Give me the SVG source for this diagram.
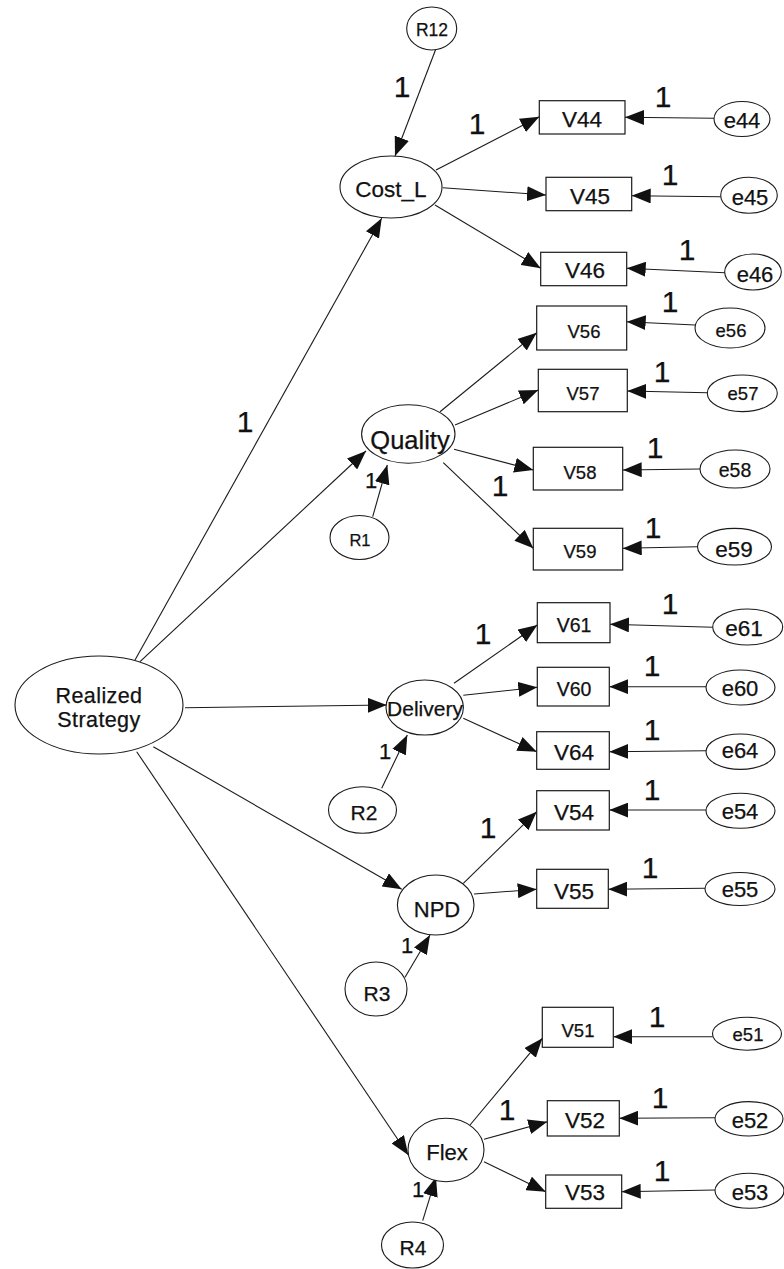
<svg xmlns="http://www.w3.org/2000/svg" width="784" height="1269" viewBox="0 0 784 1269">
  <style>
    .bg { fill: #ffffff; }
    .lat { fill: #ffffff; stroke: #1a1a1a; stroke-width: 1.1; }
    .obs { fill: #ffffff; stroke: #1a1a1a; stroke-width: 1.2; }
    .err { fill: #ffffff; stroke: #1a1a1a; stroke-width: 1.1; }
    .path { stroke: #1a1a1a; stroke-width: 1.1; fill: none; marker-end: url(#head); }
    text { font-family: "Liberation Sans", Arial, sans-serif; fill: #111111; stroke: #111111; stroke-width: 0.25; text-anchor: middle; }
    .v-lg { font-size: 22.5px; }
    .e-lg { font-size: 22px; }
    .md { font-size: 19.5px; }
    .sm { font-size: 18.5px; }
    .r { font-size: 21px; }
    .r12 { font-size: 17.5px; }
    .r1 { font-size: 16.5px; }
    .qual { font-size: 25.5px; }
    .deliv { font-size: 21px; }
    .fac { font-size: 22.5px; }
    .fac2 { font-size: 21.5px; letter-spacing: 0.4px; }
    .w1 { font-size: 30px; }
    .w1s { font-size: 22px; }
  </style>
  <defs>
    <marker id="head" markerUnits="userSpaceOnUse" markerWidth="19" markerHeight="15" refX="19" refY="7.5" orient="auto">
      <path d="M0,0 L19,7.5 L0,15 z" fill="#111111"/>
    </marker>
  </defs>
  <rect class="bg" x="0" y="0" width="784" height="1269"/>

  <!-- regression paths and their fixed weights -->
  <g id="connectors">
    <line class="path" x1="436.7" y1="46.7" x2="395" y2="156"/>
    <line class="path" x1="436" y1="170" x2="539.3" y2="116.7"/>
    <line class="path" x1="442.7" y1="187.7" x2="546" y2="195"/>
    <line class="path" x1="435" y1="205" x2="540.7" y2="268.3"/>
    <line class="path" x1="714" y1="118.3" x2="625" y2="117.3"/>
    <line class="path" x1="720.7" y1="196.7" x2="631.7" y2="195.7"/>
    <line class="path" x1="725" y1="272.7" x2="626.7" y2="268.3"/>
    <line class="path" x1="135" y1="660" x2="381.7" y2="218.3"/>
    <line class="path" x1="140" y1="661.7" x2="366" y2="451"/>
    <line class="path" x1="440" y1="411.7" x2="536.7" y2="332.7"/>
    <line class="path" x1="455" y1="425" x2="538.3" y2="390"/>
    <line class="path" x1="454" y1="449.3" x2="533.3" y2="470"/>
    <line class="path" x1="443.3" y1="462.7" x2="533.3" y2="548.3"/>
    <line class="path" x1="695" y1="325" x2="626.7" y2="321.7"/>
    <line class="path" x1="707.3" y1="392.7" x2="627.3" y2="391"/>
    <line class="path" x1="700" y1="469" x2="622.7" y2="470"/>
    <line class="path" x1="697.3" y1="546.7" x2="622.7" y2="548.3"/>
    <line class="path" x1="372.7" y1="516.7" x2="387.3" y2="465"/>
    <line class="path" x1="185" y1="707.7" x2="386.7" y2="705"/>
    <line class="path" x1="454" y1="683.3" x2="537.3" y2="625"/>
    <line class="path" x1="463.3" y1="695.3" x2="537.3" y2="687.3"/>
    <line class="path" x1="463.3" y1="718.3" x2="536.7" y2="751.7"/>
    <line class="path" x1="712.7" y1="627.3" x2="610" y2="624.3"/>
    <line class="path" x1="706" y1="686.7" x2="609.3" y2="686.7"/>
    <line class="path" x1="706" y1="750.7" x2="609.3" y2="751.7"/>
    <line class="path" x1="381.7" y1="788.3" x2="407.3" y2="735"/>
    <line class="path" x1="153.3" y1="746.7" x2="401.7" y2="889.3"/>
    <line class="path" x1="463.3" y1="883.3" x2="536.7" y2="811.7"/>
    <line class="path" x1="474" y1="894" x2="536.7" y2="889.3"/>
    <line class="path" x1="706" y1="810" x2="609.3" y2="810"/>
    <line class="path" x1="705" y1="888.3" x2="608.3" y2="889.3"/>
    <line class="path" x1="405" y1="977.3" x2="430" y2="935"/>
    <line class="path" x1="136.7" y1="751.7" x2="408.3" y2="1155"/>
    <line class="path" x1="470" y1="1125" x2="542.3" y2="1038.3"/>
    <line class="path" x1="484" y1="1139.3" x2="547.3" y2="1121.7"/>
    <line class="path" x1="484" y1="1161.7" x2="545.7" y2="1191.7"/>
    <line class="path" x1="712.7" y1="1036.7" x2="613.3" y2="1036.7"/>
    <line class="path" x1="715" y1="1117.7" x2="619.3" y2="1118.3"/>
    <line class="path" x1="715" y1="1190" x2="621.7" y2="1191.7"/>
    <line class="path" x1="422.7" y1="1220.7" x2="436" y2="1177.3"/>

    <text class="w1" x="402" y="97">1</text>
    <text class="w1" x="477" y="134">1</text>
    <text class="w1" x="663" y="107">1</text>
    <text class="w1" x="670" y="185">1</text>
    <text class="w1" x="687" y="260">1</text>
    <text class="w1" x="245" y="432">1</text>
    <text class="w1" x="670" y="312">1</text>
    <text class="w1" x="662" y="382">1</text>
    <text class="w1" x="655" y="458">1</text>
    <text class="w1" x="500" y="496">1</text>
    <text class="w1" x="653" y="538">1</text>
    <text class="w1s" x="371" y="488">1</text>
    <text class="w1" x="483" y="644">1</text>
    <text class="w1" x="670" y="614">1</text>
    <text class="w1" x="652" y="676">1</text>
    <text class="w1" x="652" y="740">1</text>
    <text class="w1s" x="385" y="759">1</text>
    <text class="w1" x="652" y="800">1</text>
    <text class="w1" x="488" y="838">1</text>
    <text class="w1" x="650" y="878">1</text>
    <text class="w1s" x="407" y="953">1</text>
    <text class="w1" x="657" y="1027">1</text>
    <text class="w1" x="507" y="1120">1</text>
    <text class="w1" x="660" y="1108">1</text>
    <text class="w1" x="662" y="1181">1</text>
    <text class="w1s" x="418" y="1197">1</text>
  </g>

  <!-- latent factors -->
  <g id="realized-strategy">
    <ellipse class="lat" cx="99" cy="705" rx="84" ry="49"/>
    <text class="fac2" x="99" y="703">Realized</text>
    <text class="fac2" x="99" y="726.5">Strategy</text>
  </g>
  <g id="cost-l">
    <ellipse class="lat" cx="391" cy="187" rx="51" ry="31"/>
    <text class="fac" x="391" y="197">Cost_L</text>
  </g>
  <g id="quality">
    <ellipse class="lat" cx="408.3" cy="434" rx="46.7" ry="29.2"/>
    <text class="qual" x="410" y="449">Quality</text>
  </g>
  <g id="delivery">
    <ellipse class="lat" cx="424.7" cy="707.5" rx="38.7" ry="27.5"/>
    <text class="deliv" x="425" y="716">Delivery</text>
  </g>
  <g id="npd">
    <ellipse class="lat" cx="435.7" cy="905" rx="38.3" ry="30"/>
    <text class="e-lg" x="437" y="917">NPD</text>
  </g>
  <g id="flex">
    <ellipse class="lat" cx="446" cy="1150" rx="38" ry="31.7"/>
    <text class="e-lg" x="447" y="1160">Flex</text>
  </g>

  <!-- disturbances -->
  <g id="r12">
    <ellipse class="err" cx="431.7" cy="28.5" rx="25" ry="21.5"/>
    <text class="r12" x="432" y="36">R12</text>
  </g>
  <g id="r1">
    <ellipse class="err" cx="359.5" cy="537.5" rx="29.5" ry="22"/>
    <text class="r1" x="360" y="546">R1</text>
  </g>
  <g id="r2">
    <ellipse class="err" cx="362.5" cy="810" rx="34" ry="23.3"/>
    <text class="r" x="364" y="820">R2</text>
  </g>
  <g id="r3">
    <ellipse class="err" cx="376" cy="989" rx="31" ry="27"/>
    <text class="r" x="377" y="1001">R3</text>
  </g>
  <g id="r4">
    <ellipse class="err" cx="412.5" cy="1245" rx="31" ry="23"/>
    <text class="r" x="413" y="1255">R4</text>
  </g>

  <!-- observed indicators -->
  <g id="v44"><rect class="obs" x="539.3" y="100.7" width="85.7" height="33.3"/><text class="v-lg" x="582" y="127">V44</text></g>
  <g id="v45"><rect class="obs" x="546" y="177.3" width="85.7" height="33.4"/><text class="v-lg" x="590" y="204">V45</text></g>
  <g id="v46"><rect class="obs" x="540.7" y="252.3" width="86" height="33.4"/><text class="v-lg" x="585" y="278">V46</text></g>
  <g id="v56"><rect class="obs" x="536.7" y="306" width="90" height="44"/><text class="sm" x="584" y="338">V56</text></g>
  <g id="v57"><rect class="obs" x="538.3" y="369.3" width="89" height="42.4"/><text class="sm" x="583" y="400">V57</text></g>
  <g id="v58"><rect class="obs" x="533.3" y="447.3" width="89.4" height="42.7"/><text class="sm" x="580" y="479">V58</text></g>
  <g id="v59"><rect class="obs" x="533.3" y="528.3" width="89.4" height="41.7"/><text class="sm" x="580" y="558">V59</text></g>
  <g id="v61"><rect class="obs" x="537.3" y="602.7" width="72.7" height="40"/><text class="md" x="574" y="632">V61</text></g>
  <g id="v60"><rect class="obs" x="537.3" y="667.3" width="72" height="38.7"/><text class="md" x="574" y="696">V60</text></g>
  <g id="v64"><rect class="obs" x="536.7" y="731.7" width="72.6" height="37.6"/><text class="v-lg" x="574" y="760">V64</text></g>
  <g id="v54"><rect class="obs" x="536.7" y="790.7" width="72.6" height="39.3"/><text class="v-lg" x="574" y="820">V54</text></g>
  <g id="v55"><rect class="obs" x="536.7" y="869.3" width="71.6" height="39"/><text class="v-lg" x="574" y="899">V55</text></g>
  <g id="v51"><rect class="obs" x="542.3" y="1007.3" width="71" height="40"/><text class="sm" x="578" y="1037">V51</text></g>
  <g id="v52"><rect class="obs" x="547.3" y="1100.7" width="72" height="35.3"/><text class="v-lg" x="585" y="1128">V52</text></g>
  <g id="v53"><rect class="obs" x="545.7" y="1175" width="76" height="33.3"/><text class="v-lg" x="585" y="1200">V53</text></g>

  <!-- measurement errors -->
  <g id="e44"><ellipse class="err" cx="742" cy="119" rx="28" ry="17.5"/><text class="e-lg" x="742" y="128">e44</text></g>
  <g id="e45"><ellipse class="err" cx="749" cy="195.3" rx="28.3" ry="18"/><text class="e-lg" x="750" y="205">e45</text></g>
  <g id="e46"><ellipse class="err" cx="753" cy="272" rx="28.3" ry="18"/><text class="e-lg" x="755" y="282">e46</text></g>
  <g id="e56"><ellipse class="err" cx="730" cy="328" rx="35" ry="20"/><text class="sm" x="731" y="337">e56</text></g>
  <g id="e57"><ellipse class="err" cx="742.3" cy="393.3" rx="35" ry="18.3"/><text class="sm" x="743" y="400">e57</text></g>
  <g id="e58"><ellipse class="err" cx="735" cy="469" rx="35" ry="19"/><text class="md" x="735" y="477">e58</text></g>
  <g id="e59"><ellipse class="err" cx="734.5" cy="546.7" rx="37" ry="18.3"/><text class="v-lg" x="734" y="557">e59</text></g>
  <g id="e61"><ellipse class="err" cx="747.7" cy="627" rx="35" ry="18"/><text class="v-lg" x="744" y="636">e61</text></g>
  <g id="e60"><ellipse class="err" cx="740.5" cy="687.5" rx="34.5" ry="17.5"/><text class="e-lg" x="740" y="696">e60</text></g>
  <g id="e64"><ellipse class="err" cx="740.5" cy="751.7" rx="34.5" ry="17.7"/><text class="e-lg" x="740" y="758">e64</text></g>
  <g id="e54"><ellipse class="err" cx="740.5" cy="810.8" rx="34.5" ry="17.5"/><text class="e-lg" x="740" y="819">e54</text></g>
  <g id="e55"><ellipse class="err" cx="740" cy="889" rx="35" ry="16.5"/><text class="e-lg" x="740" y="897">e55</text></g>
  <g id="e51"><ellipse class="err" cx="747" cy="1033.7" rx="34.5" ry="16.5"/><text class="sm" x="748" y="1041">e51</text></g>
  <g id="e52"><ellipse class="err" cx="749" cy="1118.8" rx="34" ry="17.2"/><text class="e-lg" x="750" y="1128">e52</text></g>
  <g id="e53"><ellipse class="err" cx="749.5" cy="1190.8" rx="34.5" ry="17.5"/><text class="e-lg" x="750" y="1200">e53</text></g>
</svg>
